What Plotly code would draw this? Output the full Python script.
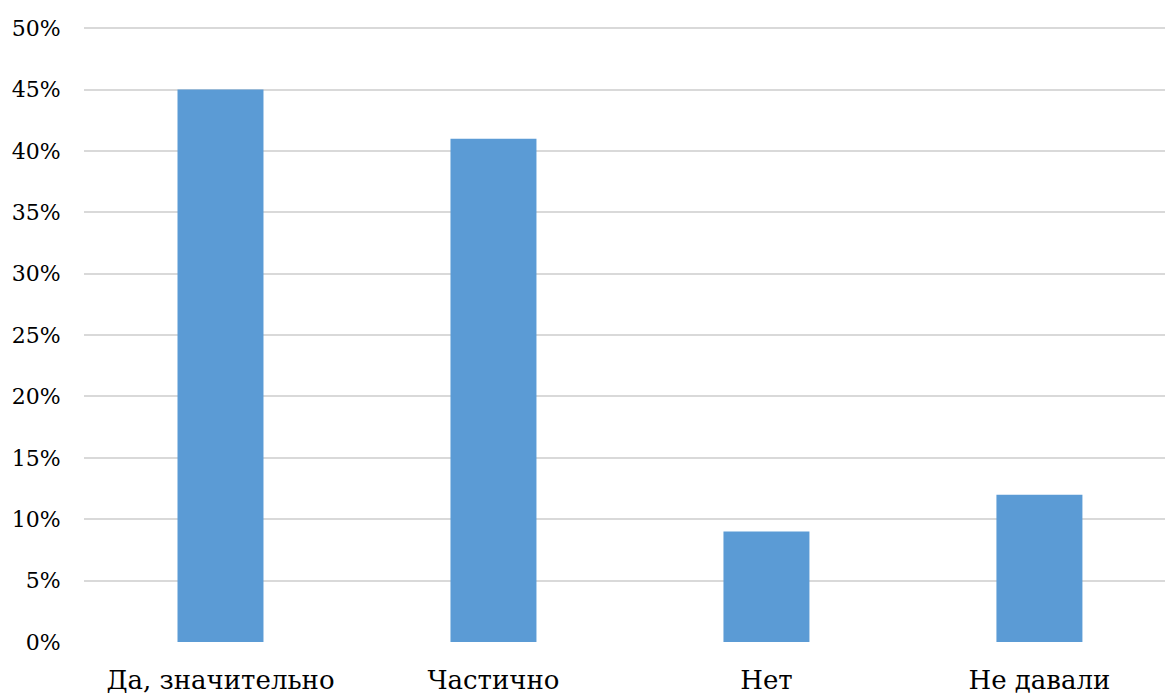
import plotly.graph_objects as go

categories = ["Да, значительно", "Частично", "Нет", "Не давали"]
values = [0.45, 0.41, 0.09, 0.12]
y_ticks = [0, 0.05, 0.10, 0.15, 0.20, 0.25, 0.30, 0.35, 0.40, 0.45, 0.50]

SERIF = "DejaVu Serif"

fig = go.Figure(go.Bar(
    x=list(range(len(categories))),
    y=values,
    marker=dict(color="#5B9BD5", line=dict(width=0)),
    width=0.315,
))

fig.update_layout(
    width=1165, height=696,
    margin=dict(l=84, r=0, t=27, b=54),
    paper_bgcolor="white", plot_bgcolor="white",
    font=dict(family=SERIF, color="#000000"),
    showlegend=False,
    xaxis=dict(
        range=[-0.5, 3.46],
        tickmode="array",
        tickvals=list(range(len(categories))),
        ticktext=categories,
        tickfont=dict(family=SERIF, size=26, color="#000000"),
        showgrid=False, zeroline=False, showline=False,
        ticks="outside", ticklen=15, tickcolor="rgba(0,0,0,0)",
    ),
    yaxis=dict(
        range=[0, 0.501],
        tickmode="array",
        tickvals=y_ticks,
        tickformat=".0%",
        tickfont=dict(family=SERIF, size=22, color="#000000"),
        showgrid=True, gridcolor="#d9d9d9", gridwidth=1.5,
        zeroline=False, showline=False,
        ticks="outside", ticklen=18, tickcolor="rgba(0,0,0,0)",
    ),
)

fig.write_html(
    "out.html",
    config={"displayModeBar": False},
    post_script="document.body.style.margin='0';document.documentElement.style.overflow='hidden';",
)
